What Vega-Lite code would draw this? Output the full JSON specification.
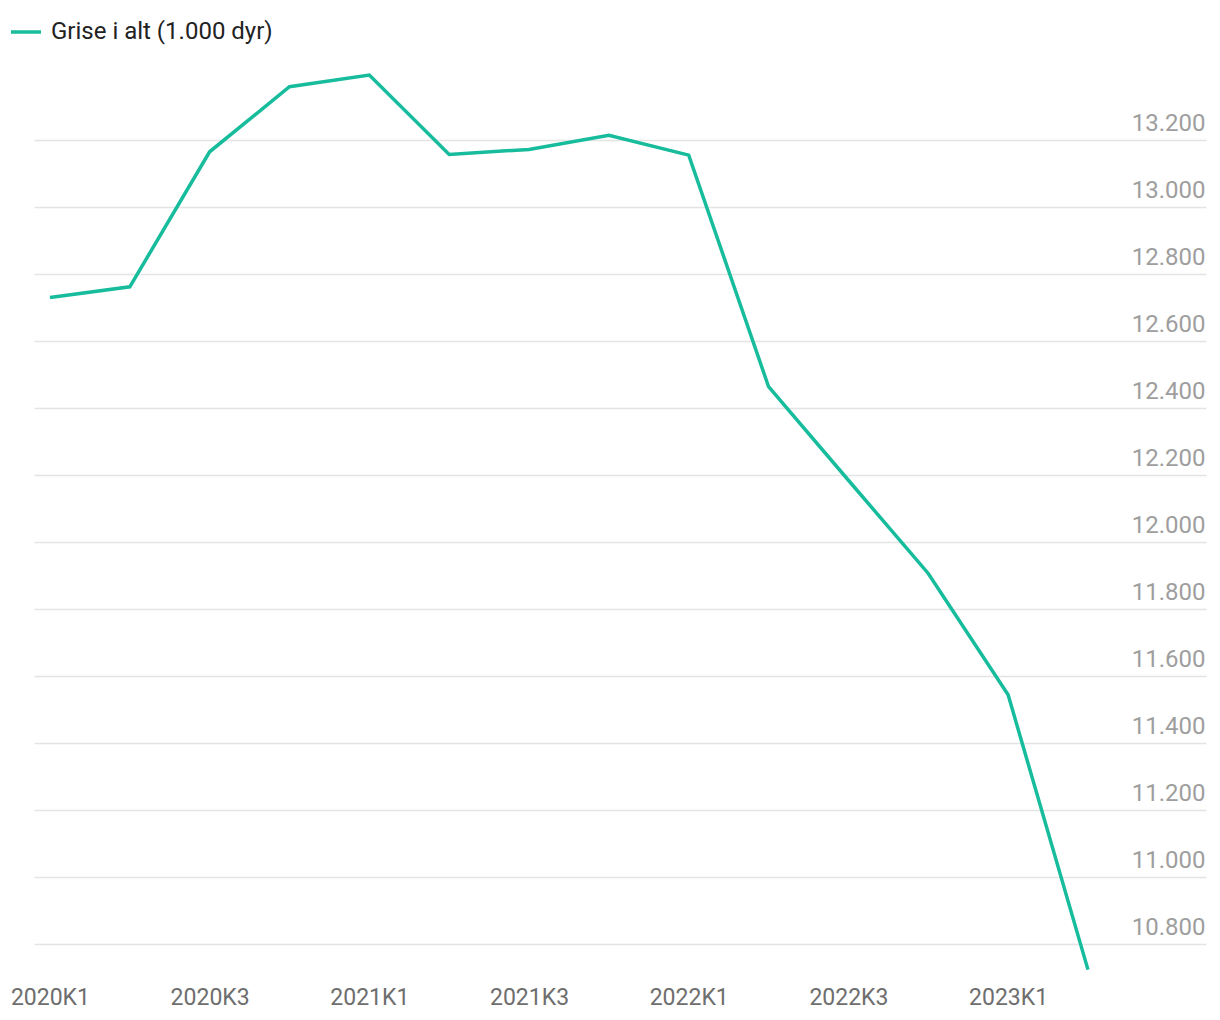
{
  "$schema": "https://vega.github.io/schema/vega-lite/v6.json",
  "width": 1172,
  "height": 905,
  "autosize": {"type": "none"},
  "padding": {"left": 34, "top": 73, "right": 14, "bottom": 42},
  "background": "#ffffff",
  "config": {
    "font": "Roboto",
    "view": {"stroke": null},
    "axis": {"domain": false, "ticks": false, "labelFont": "Roboto", "title": null}
  },
  "data": {
    "values": [
      {"kvartal": "2020K1", "grise": 12730},
      {"kvartal": "2020K2", "grise": 12762},
      {"kvartal": "2020K3", "grise": 13165},
      {"kvartal": "2020K4", "grise": 13359},
      {"kvartal": "2021K1", "grise": 13394},
      {"kvartal": "2021K2", "grise": 13157},
      {"kvartal": "2021K3", "grise": 13172},
      {"kvartal": "2021K4", "grise": 13214},
      {"kvartal": "2022K1", "grise": 13155},
      {"kvartal": "2022K2", "grise": 12464},
      {"kvartal": "2022K3", "grise": 12185},
      {"kvartal": "2022K4", "grise": 11907},
      {"kvartal": "2023K1", "grise": 11545},
      {"kvartal": "2023K2", "grise": 10725}
    ]
  },
  "mark": {"type": "line", "strokeWidth": 3.5, "strokeJoin": "miter"},
  "encoding": {
    "x": {
      "field": "kvartal",
      "type": "ordinal",
      "sort": null,
      "scale": {"type": "point", "padding": 0.839, "align": 0.119},
      "axis": {
        "values": ["2020K1", "2020K3", "2021K1", "2021K3", "2022K1", "2022K3", "2023K1"],
        "labelAngle": 0,
        "labelFontSize": 23,
        "labelColor": "#6e6e6e",
        "labelPadding": 8,
        "grid": false
      }
    },
    "y": {
      "field": "grise",
      "type": "quantitative",
      "scale": {"domain": [10700, 13400], "nice": false, "zero": false},
      "axis": {
        "orient": "right",
        "values": [10800, 11000, 11200, 11400, 11600, 11800, 12000, 12200, 12400, 12600, 12800, 13000, 13200],
        "labelExpr": "replace(format(datum.value, ','), ',', '.')",
        "labelAlign": "right",
        "labelBaseline": "alphabetic",
        "labelFontSize": 24,
        "labelOffset": -10,
        "labelPadding": -1,
        "labelColor": "#9e9e9e",
        "grid": true,
        "gridColor": "#e4e4e4",
        "gridWidth": 1.5
      }
    },
    "color": {
      "datum": "Grise i alt (1.000 dyr)",
      "scale": {"range": ["#17bc9c"]},
      "legend": {
        "title": null,
        "orient": "none",
        "legendX": -25,
        "legendY": -58,
        "symbolType": "stroke",
        "symbolSize": 900,
        "symbolStrokeWidth": 3.5,
        "labelFontSize": 24,
        "labelColor": "#222222",
        "labelFont": "Roboto",
        "labelOffset": 8,
        "labelLimit": 400
      }
    }
  }
}
